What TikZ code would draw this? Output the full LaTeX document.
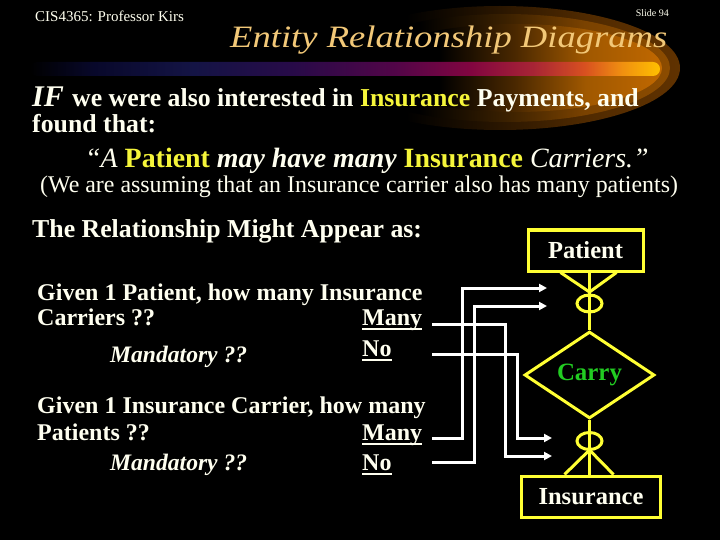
\documentclass[tikz,border=0pt]{standalone}
\usepackage{fontspec}
\setmainfont{Liberation Serif}
\usetikzlibrary{arrows.meta,shapes.geometric}
\definecolor{cream}{HTML}{FFFFF0}
\definecolor{titlec}{HTML}{F2C878}
\definecolor{hl}{HTML}{F5F53A}
\definecolor{erline}{HTML}{FFFF33}
\definecolor{carryg}{HTML}{22CC22}
\definecolor{b1}{HTML}{08082A}
\definecolor{b2}{HTML}{141445}
\definecolor{b3}{HTML}{280A48}
\definecolor{b4}{HTML}{520548}
\definecolor{b5}{HTML}{820540}
\definecolor{b6}{HTML}{A82535}
\definecolor{b7}{HTML}{D85020}
\definecolor{b8}{HTML}{F09010}
\definecolor{b9}{HTML}{FFC000}
\definecolor{ga1}{HTML}{2A1600}
\definecolor{ga2}{HTML}{502A00}
\definecolor{ga3}{HTML}{603200}
\definecolor{gb1}{HTML}{3A2000}
\definecolor{gb2}{HTML}{7A4200}
\definecolor{gb3}{HTML}{8C4C00}
\definecolor{gc1}{HTML}{4A2800}
\definecolor{gc2}{HTML}{A05800}
\definecolor{gc3}{HTML}{C06800}
\pgfdeclarehorizontalshading{barshade}{100bp}{color(0bp)=(black); color(25bp)=(black); color(30bp)=(b1); color(38bp)=(b2); color(46bp)=(b3); color(54bp)=(b4); color(60bp)=(b5); color(65bp)=(b6); color(69bp)=(b7); color(72bp)=(b8); color(75bp)=(b9); color(100bp)=(b9)}
\pgfdeclarehorizontalshading{glowA}{100bp}{color(0bp)=(black); color(37bp)=(black); color(50bp)=(ga1); color(62bp)=(ga2); color(75bp)=(ga3); color(100bp)=(ga3)}
\pgfdeclarehorizontalshading{glowB}{100bp}{color(0bp)=(black); color(37bp)=(black); color(50bp)=(gb1); color(62bp)=(gb2); color(75bp)=(gb3); color(100bp)=(gb3)}
\pgfdeclarehorizontalshading{glowC}{100bp}{color(0bp)=(black); color(37bp)=(black); color(50bp)=(gc1); color(62bp)=(gc2); color(75bp)=(gc3); color(100bp)=(gc3)}
\newcommand{\ulmark}[1]{\setbox0\hbox{#1}\rlap{\rule[-5pt]{\wd0}{2pt}}\box0}
\tikzset{
  txt/.style={inner sep=0pt, anchor=base west, text=cream},
  bodyb/.style={font=\fontsize{25.8}{30}\selectfont\bfseries},
  qb/.style={font=\fontsize{24}{28}\selectfont\bfseries},
  qi/.style={font=\fontsize{23.6}{28}\selectfont\bfseries\itshape},
  entity/.style={draw=erline, line width=3pt, rectangle, inner sep=0pt, text=cream, font=\fontsize{24.5}{28}\selectfont\bfseries},
  erl/.style={draw=erline, line width=3pt},
  conn/.style={draw=white, line width=3pt, -{Triangle[length=8pt,width=8pt]}}
}
\begin{document}
\begin{tikzpicture}[x=1pt,y=-1pt]
\fill[black] (0,0) rectangle (720,540);
\useasboundingbox (0,0) rectangle (720,540);
% glow behind title
\shade[shading=glowA] (500,68) ellipse [x radius=180, y radius=62];
\shade[shading=glowB] (505,68) ellipse [x radius=165, y radius=54];
\shade[shading=glowC] (515,68) ellipse [x radius=147, y radius=44];
% gradient bar
\shade[shading=barshade, rounded corners=7pt] (30,62) rectangle (660,76);
% header
\node[txt, font=\fontsize{15}{15}\selectfont] (hdr) at (35,21.5) {CIS4365: Professor Kirs};
\node[txt, anchor=base east, font=\fontsize{10}{10}\selectfont] (slide) at (669,17) {Slide 94};
\node[txt, text=titlec, font=\fontsize{36.6}{40}\selectfont\itshape] (title) at (230,48) {\scalebox{1}[0.85]{Entity Relationship Diagrams}};
% body text
\node[txt, font=\fontsize{30}{30}\selectfont\bfseries\itshape] (iftxt) at (32,107) {IF};
\node[txt, bodyb] (l1) at (72,107) {we were also interested in \textcolor{hl}{Insurance} Payments, and};
\node[txt, bodyb] (l2) at (32,133) {found that:};
\node[txt, font=\fontsize{27.9}{30}\selectfont] (l3) at (85,168) {{\itshape “A }{\bfseries\color{hl}Patient}{\bfseries\itshape{} may have many }{\bfseries\color{hl}Insurance}{\itshape{} Carriers.”}};
\node[txt, font=\fontsize{23.9}{28}\selectfont] (l4) at (40,193) {(We are assuming that an Insurance carrier also has many patients)};
\node[txt, bodyb] (rel) at (32,237) {The Relationship Might Appear as:};
% questions
\node[txt, qb] (q1a) at (37,300) {Given 1 Patient, how many Insurance};
\node[txt, qb] (q1b) at (37,325) {Carriers ??};
\node[txt, qi] (q1c) at (110,362) {Mandatory ??};
\node[txt, qb] (many1) at (362,325) {\ulmark{Many}};
\node[txt, qb] (no1) at (362,356) {\ulmark{No}};
\node[txt, qb] (q2a) at (37,413) {Given 1 Insurance Carrier, how many};
\node[txt, qb] (q2b) at (37,440) {Patients ??};
\node[txt, qi] (q2c) at (110,470) {Mandatory ??};
\node[txt, qb] (many2) at (362,440) {\ulmark{Many}};
\node[txt, qb] (no2) at (362,470) {\ulmark{No}};
% ER diagram
\node[entity, minimum width=115pt, minimum height=41pt] (pat) at (585.5,250.5) {Patient};
\node[entity, minimum width=139pt, minimum height=41pt] (ins) at (591,496.5) {Insurance};
\node[diamond, draw=erline, line width=3pt, inner sep=0pt, minimum width=130pt, minimum height=55pt, text=carryg, font=\fontsize{24.9}{28}\selectfont\bfseries] (carry) at (589.5,375) {Carry};
\coordinate (ptop) at (pat.south -| carry.north);
\coordinate (pfoot) at (589.5,292);
\coordinate (itop) at (ins.north -| carry.south);
\coordinate (ifoot) at (589.5,450);
\draw[erl] (ptop) -- (carry.north);
\draw[erl] (carry.south) -- (itop);
\draw[erl] ([xshift=-29pt]ptop) -- (pfoot) -- ([xshift=27pt]ptop);
\draw[erl] ([xshift=-25pt]itop) -- (ifoot) -- ([xshift=24pt]itop);
\node[ellipse, draw=erline, line width=3pt, minimum width=25pt, minimum height=17pt, inner sep=0pt] (pcirc) at (589.5,303.5) {};
\node[ellipse, draw=erline, line width=3pt, minimum width=25pt, minimum height=17pt, inner sep=0pt] (icirc) at (589.5,441) {};
% connectors
\coordinate (s1) at (432,324);
\coordinate (k1) at (505,456);
\coordinate (t1) at (552,456);
\coordinate (s2) at (432,354);
\coordinate (k2) at (517,438);
\coordinate (t2) at (552,438);
\coordinate (s3) at (432,438);
\coordinate (k3) at (462,288);
\coordinate (t3) at (547,288);
\coordinate (s4) at (432,462);
\coordinate (k4) at (474,306);
\coordinate (t4) at (547,306);
\draw[conn] (s1) -| (k1) -- (t1);
\draw[conn] (s2) -| (k2) -- (t2);
\draw[conn] (s3) -| (k3) -- (t3);
\draw[conn] (s4) -| (k4) -- (t4);
\end{tikzpicture}
\end{document}
